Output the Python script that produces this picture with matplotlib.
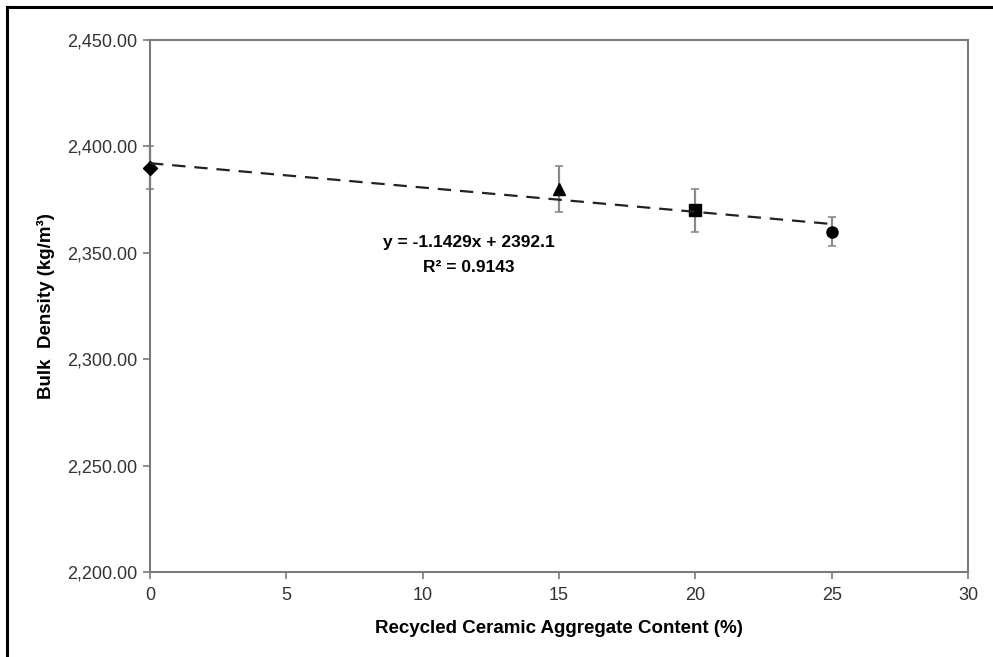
import matplotlib.pyplot as plt
from matplotlib.lines import Line2D
from matplotlib.ticker import FuncFormatter

plt.rcParams['font.family'] = ['Liberation Sans', 'DejaVu Sans']

# bulk density vs recycled ceramic aggregate content
contenu = [0, 15, 20, 25]
densite = [2390, 2380, 2370, 2360]
erreur = [10, 11, 10, 7]
marqueurs = ['D', '^', 's', 'o']

pente = -1.1429
ordonnee = 2392.1
r2 = 0.9143

fig = plt.figure(figsize=(9.93, 6.57), dpi=100)
ax = fig.add_axes([0.1511, 0.1294, 0.8237, 0.8097])

for x, y, e, m in zip(contenu, densite, erreur, marqueurs):
    ax.errorbar(x, y, yerr=e, fmt='none', ecolor='#8a8a8a', elinewidth=1.6,
                capsize=3, capthick=1.2, zorder=2, clip_on=False)
    ax.plot(x, y, marker=m, color='black', markersize=8 if m != 'D' else 7,
            linestyle='none', zorder=3, clip_on=False)

xs = [0, 25]
ax.plot(xs, [pente * x + ordonnee for x in xs], color='#222222',
        linestyle=(0, (6, 4)), linewidth=1.6, zorder=4)

ax.text(11.7, 2355, 'y = -1.1429x + 2392.1', ha='center', va='center',
        fontsize=12.5, fontweight='bold')
ax.text(11.7, 2343.3, 'R² = %.4f' % r2, ha='center', va='center',
        fontsize=12.5, fontweight='bold')

ax.set_xlim(0, 30)
ax.set_ylim(2200, 2450)
ax.set_xticks(range(0, 31, 5))
ax.set_yticks(range(2200, 2451, 50))
ax.yaxis.set_major_formatter(FuncFormatter(lambda v, p: '{:,.2f}'.format(v)))

for s in ax.spines.values():
    s.set_color('#7a7a7a')
    s.set_linewidth(1.5)
ax.tick_params(direction='out', length=5, width=1.2, color='#7a7a7a',
               labelsize=13, labelcolor='#333333', pad=4)
ax.tick_params(axis='x', pad=6)

ax.set_xlabel('Recycled Ceramic Aggregate Content (%)', fontsize=13.5,
              fontweight='bold', labelpad=11)
ax.set_ylabel('Bulk  Density (kg/m³)', fontsize=13.5,
              fontweight='bold', labelpad=9)

# frame lines along the top and left of the figure
fig.add_artist(Line2D([7 / 993, 7 / 993], [0, 1 - 7 / 657],
                      transform=fig.transFigure, color='black', linewidth=2.2))
fig.add_artist(Line2D([7 / 993, 1], [1 - 7 / 657, 1 - 7 / 657],
                      transform=fig.transFigure, color='black', linewidth=2.2))

fig.savefig('out.png', dpi=100)
